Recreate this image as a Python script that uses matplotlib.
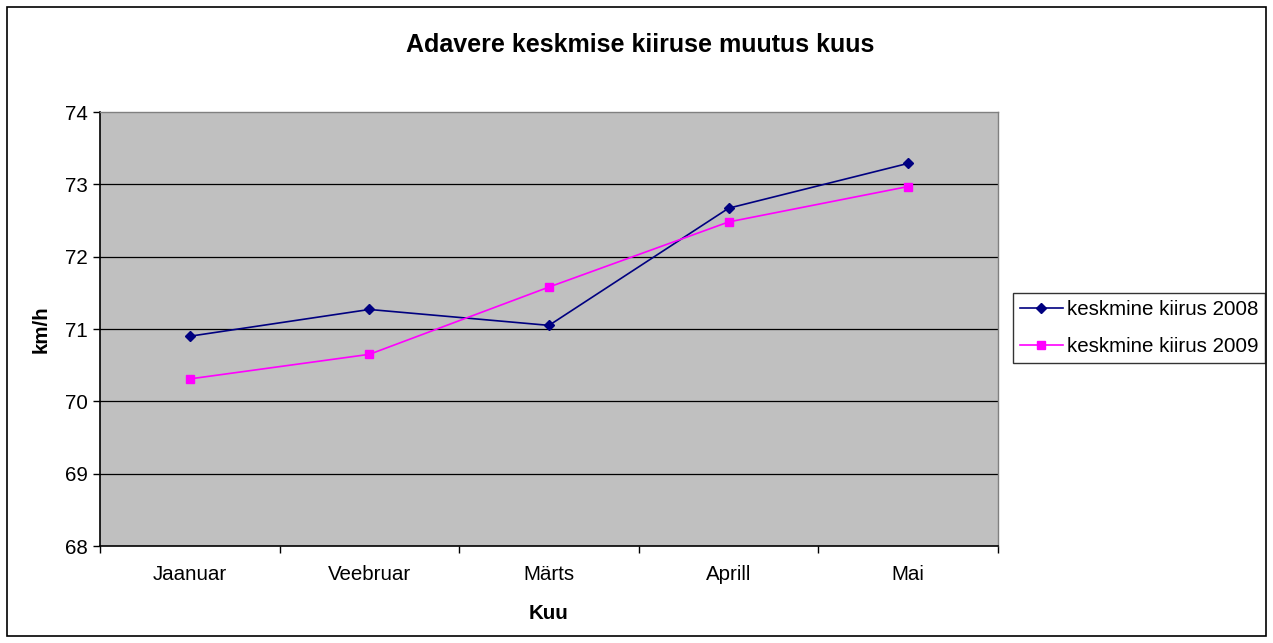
import matplotlib
matplotlib.use("Agg")
import matplotlib.pyplot as plt
from matplotlib.patches import Rectangle
import numpy as np

months = ["Jaanuar", "Veebruar", "Märts", "Aprill", "Mai"]
speed_2008 = [70.90, 71.27, 71.05, 72.67, 73.29]
speed_2009 = [70.31, 70.65, 71.58, 72.48, 72.97]
yticks = [68, 69, 70, 71, 72, 73, 74]

plt.rcParams['font.family'] = ['Liberation Sans', 'DejaVu Sans']

fig = plt.figure(figsize=(12.73, 6.43), dpi=100)
fig.patch.set_facecolor('white')
ax = fig.add_axes([100/1273, 1-546/643, 898/1273, 434/643])
ax.set_facecolor('#C0C0C0')

x = np.arange(len(months))
ax.plot(x, speed_2008, color='#000080', marker='D', markersize=5.5, lw=1.2,
        label='keskmine kiirus 2008', zorder=3)
ax.plot(x, speed_2009, color='#FF00FF', marker='s', markersize=6, lw=1.2,
        label='keskmine kiirus 2009', zorder=3)

ax.set_xlim(-0.5, len(months) - 0.5)
ax.set_ylim(68, 74)
ax.set_yticks(yticks)
ax.set_yticklabels([str(v) for v in yticks])
for v in yticks[1:-1]:
    ax.axhline(v, color='black', lw=0.9, zorder=1)

ax.set_xticks(x)
ax.set_xticklabels(months)
ax.set_xticks(np.arange(-0.5, len(months)), minor=True)
ax.tick_params(axis='x', which='major', length=0, pad=14, labelsize=14.8)
ax.tick_params(axis='x', which='minor', length=5, width=1, direction='out')
ax.tick_params(axis='y', length=5, width=1, direction='out', pad=4, labelsize=14.8)

for s in ['left', 'bottom']:
    ax.spines[s].set_color('black')
    ax.spines[s].set_linewidth(1.2)
for s in ['top', 'right']:
    ax.spines[s].set_color('#808080')
    ax.spines[s].set_linewidth(1.0)

ax.set_xlabel('Kuu', fontsize=14.8, fontweight='bold', labelpad=14)
ax.set_ylabel('km/h', fontsize=14.8, fontweight='bold', labelpad=10)
fig.text(640/1273, 1-45/643, 'Adavere keskmise kiiruse muutus kuus',
         ha='center', va='center', fontsize=18, fontweight='bold')

leg = fig.legend(loc='center left', bbox_to_anchor=(1013/1273, 1-328/643),
                 fontsize=14.8, frameon=True, fancybox=False, edgecolor='black',
                 borderpad=0.32, labelspacing=0.9, handlelength=2.1,
                 handletextpad=0.2, borderaxespad=0)
leg.get_frame().set_linewidth(1.0)

fig.add_artist(Rectangle((7/1273, 7/643), 1259/1273, 629/643, transform=fig.transFigure,
                         fill=False, edgecolor='black', lw=1.2))

fig.savefig('out.png', dpi=100)
